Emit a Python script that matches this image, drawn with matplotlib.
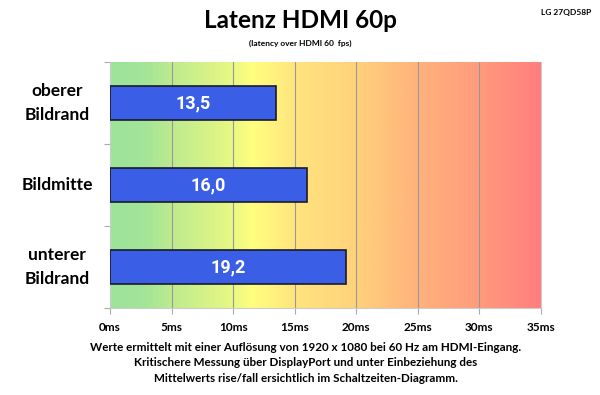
import numpy as np
import matplotlib.pyplot as plt
from matplotlib.colors import LinearSegmentedColormap

categories = ['oberer\nBildrand', 'Bildmitte', 'unterer\nBildrand']
values = [13.5, 16.0, 19.2]
value_labels = ['13,5', '16,0', '19,2']
xticks = [0, 5, 10, 15, 20, 25, 30, 35]
xtick_labels = [f'{t}ms' for t in xticks]

plt.rcParams['font.family'] = ['Lato', 'DejaVu Sans']

fig = plt.figure(figsize=(6, 3.95), dpi=100)
ax = fig.add_axes([110 / 600, 1 - 308 / 395, 431 / 600, 246 / 395])

# background gradient green -> yellow -> orange -> red
cmap = LinearSegmentedColormap.from_list('bg', [
    (0.0, '#9de39b'), (0.08, '#a3e598'), (0.143, '#bdeb8f'), (0.286, '#e9f883'),
    (0.33, '#ffff7f'), (0.43, '#ffe47e'), (0.57, '#ffd27c'), (0.714, '#ffb27c'),
    (0.857, '#ff9c7c'), (1.0, '#ff7e7e')])
grad = np.linspace(0, 1, 256).reshape(1, -1)
ax.imshow(grad, aspect='auto', cmap=cmap, extent=[0, 35, -0.5, 2.5], zorder=0)

y = np.arange(len(categories))
ax.barh(y, values, height=0.42, color='#3a5fe6', edgecolor='#1a1a2a', linewidth=1.2, zorder=3)
for yi, v, lab in zip(y, values, value_labels):
    ax.text(v / 2, yi, lab, ha='center', va='center', color='white',
            fontsize=13, fontweight='bold', family=['Roboto', 'DejaVu Sans'], zorder=4)

ax.set_xlim(0, 35)
ax.set_ylim(2.5, -0.5)
ax.set_xticks(xticks)
ax.set_xticklabels(xtick_labels, fontsize=8.5, fontweight='bold')
ax.set_yticks([-0.5, 0.5, 1.5, 2.5])
ax.set_yticklabels([])
ax.tick_params(axis='y', length=4, color='#aaaaaa')
ax.tick_params(axis='x', length=4, color='#aaaaaa', pad=6)
for xt in xticks[1:-1]:
    ax.axvline(xt, color='#999999', linewidth=0.8, zorder=1)
ax.spines['top'].set_visible(False)
for side in ['left', 'bottom', 'right']:
    ax.spines[side].set_color('#cccccc')

for yi, cat in zip(y, categories):
    ax.text(-4.3, yi, cat, ha='center', va='center', fontsize=12.5,
            fontweight='bold', linespacing=1.55)

fig.text(0.5, 1 - 20 / 395, 'Latenz HDMI 60p', ha='center', va='center', fontsize=17.5, fontweight='bold')
fig.text(0.5, 1 - 43 / 395, '(latency over HDMI 60  fps)', ha='center', va='center', fontsize=6, fontweight='bold')
fig.text(0.985, 1 - 13 / 395, 'LG 27QD58P', ha='right', va='center', fontsize=6, fontweight='bold')
fig.text(0.51, 1 - 363 / 395,
         'Werte ermittelt mit einer Auflösung von 1920 x 1080 bei 60 Hz am HDMI-Eingang.\n'
         'Kritischere Messung über DisplayPort und unter Einbeziehung des\n'
         'Mittelwerts rise/fall ersichtlich im Schaltzeiten-Diagramm.',
         ha='center', va='center', fontsize=8.4, fontweight='bold', linespacing=1.55)

fig.savefig('out.png', dpi=100)
